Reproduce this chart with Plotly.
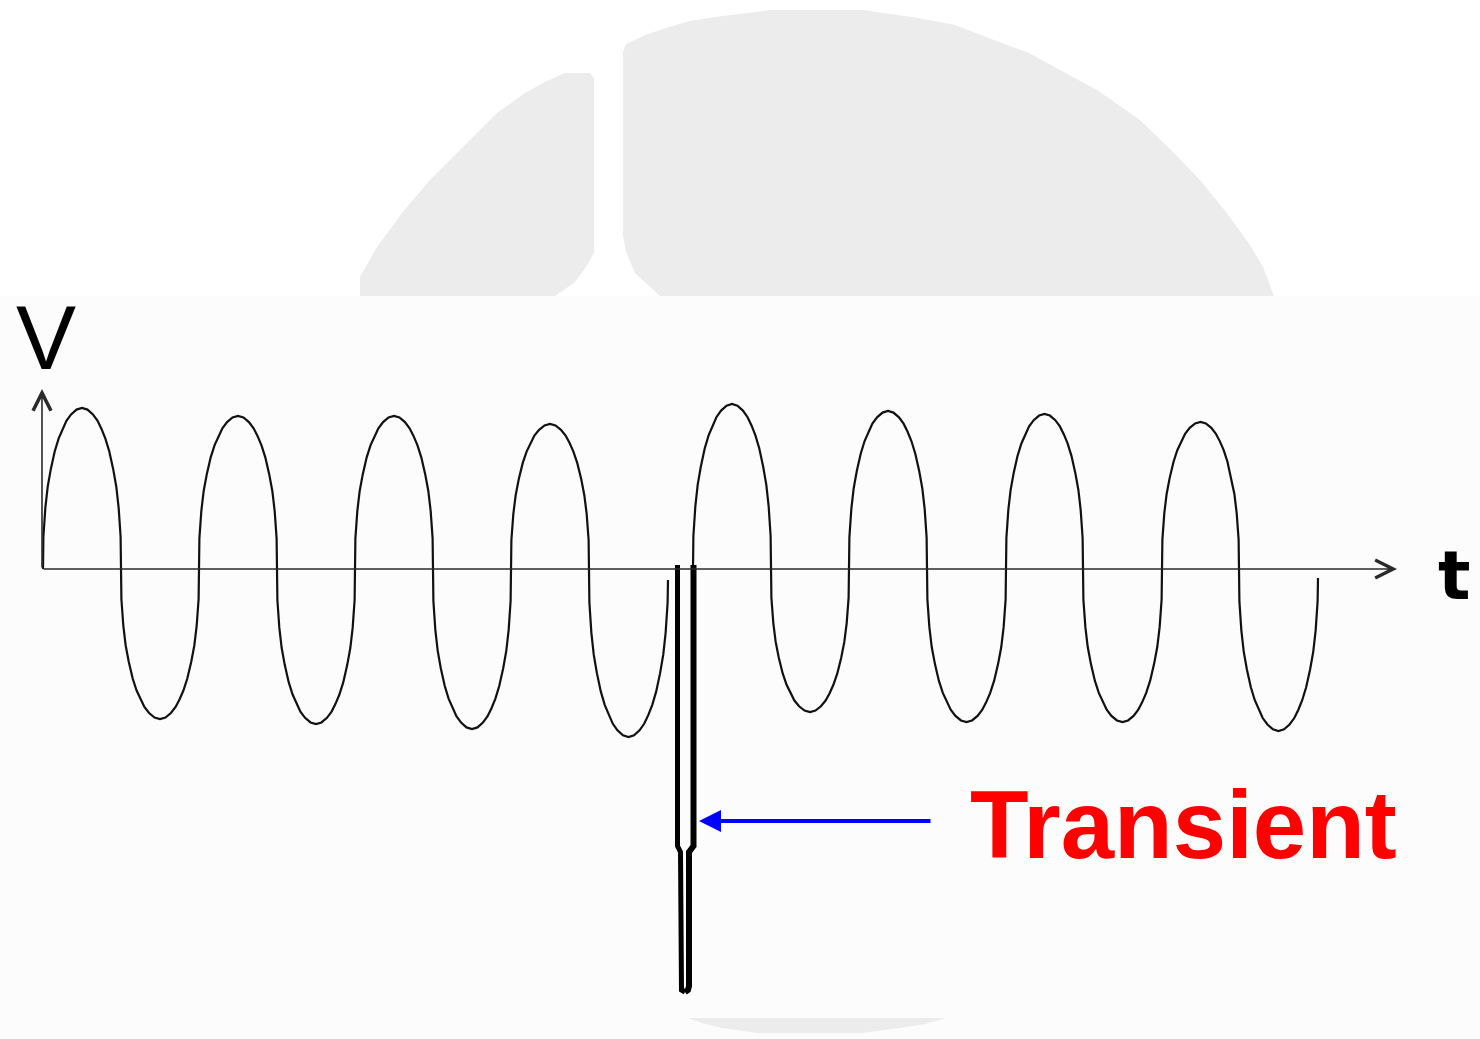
import plotly.graph_objects as go

# zero crossings (t) and peak values (V) of the sine before and after the transient
t_cross_before = [43, 121, 199, 277, 355, 433, 511, 589, 668]
v_peak_before = [161, -150, 153, -155, 153, -160, 145, -168]
v_end_before = -11
t_cross_after = [693, 771, 849, 927, 1006, 1083, 1162, 1239, 1318]
v_peak_after = [165, -143, 158, -153, 155, -153, 147, -162]
v_end_after = -9

# shape of one half cycle (fraction of lobe, fraction of peak)
lobe_frac = [0, 0.005, 0.03, 0.06, 0.1, 0.15, 0.2, 0.25, 0.3, 0.36, 0.43, 0.5,
             0.57, 0.64, 0.7, 0.75, 0.8, 0.85, 0.9, 0.94, 0.97, 0.995, 1]
lobe_rel = [0, 0.2, 0.38, 0.51, 0.62, 0.73, 0.81, 0.87, 0.92, 0.96, 0.99, 1,
            0.99, 0.96, 0.92, 0.87, 0.81, 0.73, 0.62, 0.51, 0.38, 0.2, 0]

# the transient spike (double outline)
spike_t_left = [677.5, 677.5, 680.5, 680.5, 681.5, 685]
spike_v_left = [4, -277, -283, -417, -421, -423]
spike_t_right = [685, 688, 689, 689, 693.5, 693.5]
spike_v_right = [-423, -421, -417, -283, -277, 4]

V_TOP = 569          # pixel row of the t axis
H = 1039
W = 1480


def build_wave(crossings, peaks, v_end):
    ts, vs = [], []
    for i, pk in enumerate(peaks):
        c0, c1 = crossings[i], crossings[i + 1]
        for j, (f, r) in enumerate(zip(lobe_frac, lobe_rel)):
            if i > 0 and j == 0:
                continue
            ts.append(c0 + f * (c1 - c0))
            vs.append(pk * r)
    vs[-1] = v_end
    return ts, vs


def px_path(points):
    # outline given in picture pixels -> path in data units
    pts = [f'{x},{V_TOP - y}' for x, y in points]
    return 'M' + 'L'.join(pts) + 'Z'


fig = go.Figure()

line_color = '#111111'
for crossings, peaks, v_end in [(t_cross_before, v_peak_before, v_end_before),
                                (t_cross_after, v_peak_after, v_end_after)]:
    ts, vs = build_wave(crossings, peaks, v_end)
    fig.add_trace(go.Scatter(x=ts, y=vs, mode='lines', line=dict(color=line_color, width=2.2),
                             hoverinfo='skip'))

fig.add_trace(go.Scatter(x=spike_t_left, y=spike_v_left, mode='lines',
                         line=dict(color='#000000', width=5), hoverinfo='skip'))
fig.add_trace(go.Scatter(x=spike_t_right, y=spike_v_right, mode='lines',
                         line=dict(color='#000000', width=6), hoverinfo='skip'))

# watermark in the background
grey = '#ececec'
left_blob = [(360, 296), (360, 277), (377, 247), (402, 213), (430, 180), (457, 153), (497, 113),
             (525, 93), (545, 82), (565, 73), (590, 73), (594, 78), (594, 253), (586, 267),
             (574, 283), (555, 296)]
big_blob = [(660, 296), (635, 273), (626, 252), (623, 235), (623, 52), (626, 44), (645, 35),
            (666, 28), (690, 21), (715, 17), (771, 10), (863, 10), (918, 18), (955, 25),
            (986, 37), (1029, 53), (1060, 70), (1097, 90), (1140, 120), (1171, 150),
            (1200, 180), (1226, 212), (1250, 245), (1263, 267), (1274, 296)]
low_blob = [(688, 1018), (946, 1018), (925, 1024), (900, 1028), (862, 1033), (757, 1033),
            (722, 1028), (702, 1023)]
shapes = [dict(type='rect', xref='x', yref='y', x0=0, x1=W, y0=V_TOP - 296, y1=V_TOP - H,
               fillcolor='#fcfcfc', line_width=0, layer='below')]
for blob in (left_blob, big_blob, low_blob):
    shapes.append(dict(type='path', xref='x', yref='y', path=px_path(blob), fillcolor=grey,
                       line_width=0, layer='below'))

annotations = [
    # t axis
    dict(x=1397, y=0, ax=42, ay=0, xref='x', yref='y', axref='x', ayref='y', text='',
         showarrow=True, arrowhead=5, arrowsize=2.2, arrowwidth=1.6, arrowcolor='#2a2a2a'),
    # V axis
    dict(x=42, y=V_TOP - 389, ax=42, ay=0, xref='x', yref='y', axref='x', ayref='y', text='',
         showarrow=True, arrowhead=5, arrowsize=2.2, arrowwidth=1.6, arrowcolor='#2a2a2a'),
    # pointer to the transient
    dict(x=699, y=V_TOP - 821, ax=932, ay=V_TOP - 821, xref='x', yref='y', axref='x', ayref='y',
         text='', showarrow=True, arrowhead=2, arrowsize=1.1, arrowwidth=4, arrowcolor='#0000ff'),
    dict(x=46, y=V_TOP - 338, xref='x', yref='y', text='V', showarrow=False,
         font=dict(family='Liberation Sans, Arial', size=90, color='#000000')),
    dict(x=1454, y=V_TOP - 575, xref='x', yref='y', text='<b>t</b>', showarrow=False,
         font=dict(family='DejaVu Sans', size=68, color='#000000')),
    dict(x=1183, y=V_TOP - 824, xref='x', yref='y', text='<b>Transient</b>', showarrow=False,
         font=dict(family='Liberation Sans, Arial', size=96, color='#ff0000')),
]

fig.update_layout(
    width=W, height=H,
    margin=dict(l=0, r=0, t=0, b=0),
    paper_bgcolor='#ffffff', plot_bgcolor='#ffffff',
    showlegend=False,
    xaxis=dict(range=[0, W], visible=False, fixedrange=True),
    yaxis=dict(range=[V_TOP - H, V_TOP], visible=False, fixedrange=True),
    shapes=shapes,
    annotations=annotations,
)

fig.write_html("out.html", config={'displayModeBar': False},
               post_script="document.body.style.margin='0';document.body.style.overflow='hidden';")
